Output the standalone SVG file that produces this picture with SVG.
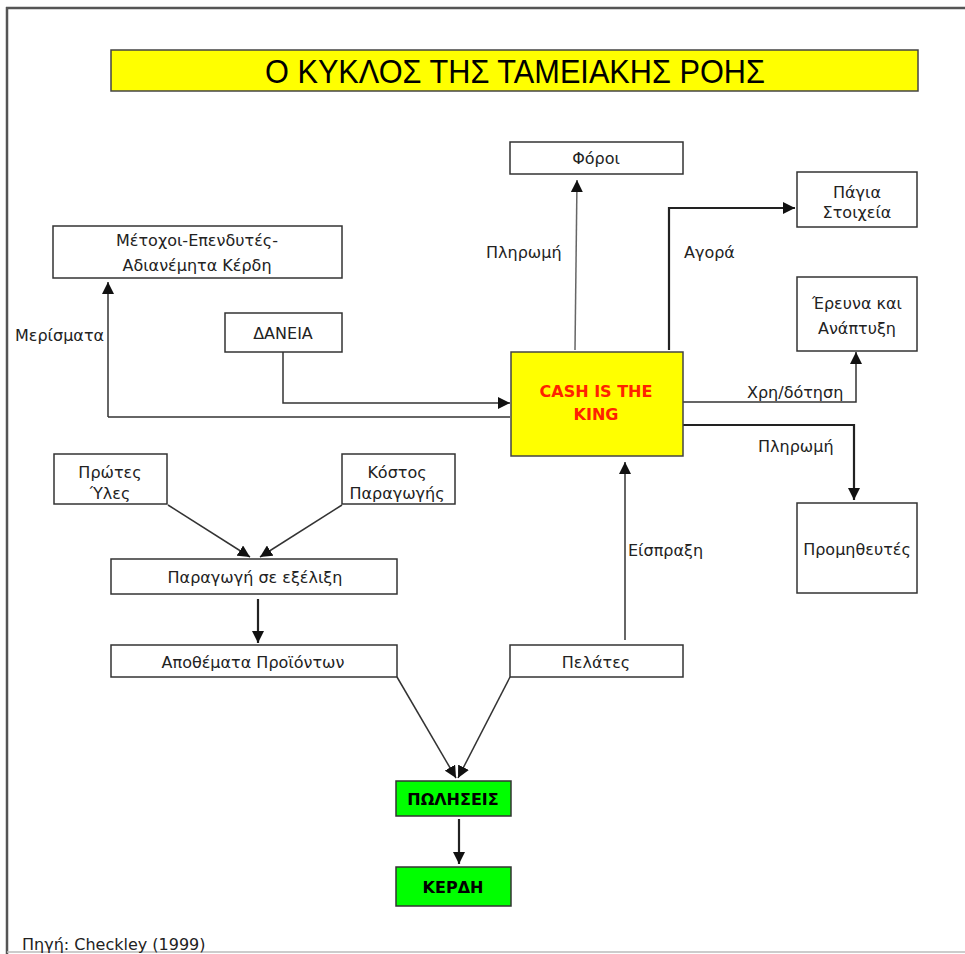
<svg xmlns="http://www.w3.org/2000/svg" width="965" height="954" viewBox="0 0 965 954">
<style>
.box{fill:#fff;stroke:#333;stroke-width:1.5}
.t{font-family:"DejaVu Sans","Liberation Sans",sans-serif;font-size:16px;fill:#222;text-anchor:middle;dominant-baseline:central}
.lbl{font-family:"DejaVu Sans","Liberation Sans",sans-serif;font-size:16px;fill:#222;dominant-baseline:central}
.b{font-family:"DejaVu Sans","Liberation Sans",sans-serif;font-size:16px;font-weight:bold;text-anchor:middle;dominant-baseline:central}
.c{fill:none;stroke:#333;stroke-width:1.5}
.thick{stroke-width:2.2;stroke:#222}
.light{stroke:#666}
</style>
<defs>
<marker id="ah" markerUnits="userSpaceOnUse" markerWidth="12" markerHeight="12" viewBox="0 0 12 12" refX="12" refY="6" orient="auto">
<path d="M0,0 L12,6 L0,12 Z" fill="#111"/>
</marker>
</defs>
<rect width="965" height="954" fill="#fff"/>
<g id="frame">
<line x1="6" y1="8" x2="965" y2="8" stroke="#555" stroke-width="2.5"/>
<line x1="7" y1="7" x2="7" y2="954" stroke="#555" stroke-width="2.5"/>
<line x1="7" y1="952" x2="965" y2="952" stroke="#bbb" stroke-width="1.5"/>
</g>
<g id="title">
<rect x="111" y="50" width="807" height="41" fill="#ffff00" stroke="#444" stroke-width="1.5"/>
<text x="515" y="71" font-family="Liberation Sans,Arial,sans-serif" font-size="33" text-anchor="middle" dominant-baseline="central" textLength="500" lengthAdjust="spacingAndGlyphs" fill="#000">Ο ΚΥΚΛΟΣ ΤΗΣ ΤΑΜΕΙΑΚΗΣ ΡΟΗΣ</text>
</g>
<g id="connectors">
<path class="c light" d="M575,350 L577,180" marker-end="url(#ah)"/>
<path class="c thick" d="M669,350 L669,208 L795,208" marker-end="url(#ah)"/>
<path class="c" d="M108,417 L510,417"/>
<path class="c" d="M108,417 L108,282" marker-end="url(#ah)"/>
<path class="c" d="M283,352 L283,403 L510,403" marker-end="url(#ah)"/>
<path class="c" d="M683,402 L856,402 L856,352" marker-end="url(#ah)"/>
<path class="c thick" d="M683,425 L854,425 L854,500" marker-end="url(#ah)"/>
<path class="c" d="M168,505 L250,557" marker-end="url(#ah)"/>
<path class="c" d="M342,505 L260,557" marker-end="url(#ah)"/>
<path class="c thick" d="M258,599 L258,643" marker-end="url(#ah)"/>
<path class="c" d="M625,640 L625,462" marker-end="url(#ah)"/>
<path class="c" d="M397,677 L456,778" marker-end="url(#ah)"/>
<path class="c" d="M510,677 L458,778" marker-end="url(#ah)"/>
<path class="c thick" d="M459,819 L459,864" marker-end="url(#ah)"/>
</g>
<g id="labels">
<text class="lbl" x="15" y="335">Μερίσματα</text>
<text class="lbl" x="486" y="252">Πληρωμή</text>
<text class="lbl" x="684" y="252">Αγορά</text>
<text class="lbl" x="747" y="392">Χρη/δότηση</text>
<text class="lbl" x="758" y="446">Πληρωμή</text>
<text class="lbl" x="628" y="550">Είσπραξη</text>
<text class="lbl" x="22" y="944" font-size="17.5">Πηγή: Checkley (1999)</text>
</g>
<g id="n-metochoi">
<rect class="box" x="53" y="226" width="289" height="52"/>
<text class="t" x="197" y="240">Μέτοχοι-Επενδυτές-</text>
<text class="t" x="197" y="265">Αδιανέμητα Κέρδη</text>
</g>
<g id="n-daneia">
<rect class="box" x="225" y="313" width="117" height="39"/>
<text class="t" x="283" y="333">ΔΑΝΕΙΑ</text>
</g>
<g id="n-foroi">
<rect class="box" x="510" y="142" width="173" height="32"/>
<text class="t" x="596" y="158">Φόροι</text>
</g>
<g id="n-pagia">
<rect class="box" x="797" y="172" width="120" height="55"/>
<text class="t" x="857" y="192">Πάγια</text>
<text class="t" x="857" y="212">Στοιχεία</text>
</g>
<g id="n-erevna">
<rect class="box" x="797" y="277" width="120" height="74"/>
<text class="t" x="857" y="303">Έρευνα και</text>
<text class="t" x="857" y="328">Ανάπτυξη</text>
</g>
<g id="n-cash">
<rect x="511" y="352" width="172" height="104" fill="#ffff00" stroke="#444" stroke-width="1.5"/>
<text class="b" x="596" y="391" fill="#ff2200" font-size="17.5">CASH IS THE</text>
<text class="b" x="596" y="414" fill="#ff2200" font-size="17.5">KING</text>
</g>
<g id="n-promitheftes">
<rect class="box" x="797" y="503" width="120" height="90"/>
<text class="t" x="857" y="549">Προμηθευτές</text>
</g>
<g id="n-protes">
<rect class="box" x="54" y="454" width="113" height="50"/>
<text class="t" x="110" y="472">Πρώτες</text>
<text class="t" x="110" y="493">Ύλες</text>
</g>
<g id="n-kostos">
<rect class="box" x="342" y="454" width="113" height="50"/>
<text class="t" x="397" y="472">Κόστος</text>
<text class="t" x="397" y="493">Παραγωγής</text>
</g>
<g id="n-paragogi">
<rect class="box" x="111" y="559" width="286" height="35"/>
<text class="t" x="255" y="577">Παραγωγή σε εξέλιξη</text>
</g>
<g id="n-apothemata">
<rect class="box" x="111" y="645" width="286" height="32"/>
<text class="t" x="253" y="662">Αποθέματα Προϊόντων</text>
</g>
<g id="n-pelates">
<rect class="box" x="510" y="645" width="173" height="32"/>
<text class="t" x="596" y="662">Πελάτες</text>
</g>
<g id="n-poliseis">
<rect x="396" y="781" width="115" height="35" fill="#00ff00" stroke="#333" stroke-width="1.5"/>
<text class="b" x="453" y="799" fill="#000">ΠΩΛΗΣΕΙΣ</text>
</g>
<g id="n-kerdi">
<rect x="396" y="867" width="115" height="39" fill="#00ff00" stroke="#333" stroke-width="1.5"/>
<text class="b" x="453" y="887" fill="#000">ΚΕΡΔΗ</text>
</g>
</svg>
